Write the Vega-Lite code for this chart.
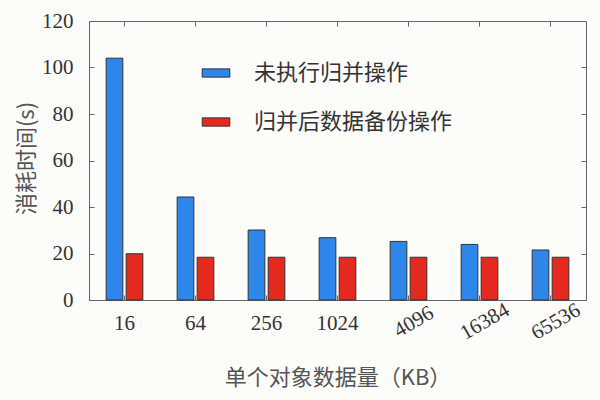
{
  "$schema": "https://vega.github.io/schema/vega-lite/v6.json",
  "width": 497,
  "height": 279,
  "autosize": {"type": "none"},
  "padding": {"left": 89, "top": 21, "right": 14, "bottom": 100},
  "background": "#fcfcfb",
  "config": {
    "view": {"stroke": "#666", "strokeWidth": 1},
    "axis": {"grid": false}
  },
  "data": {
    "values": [
      {"size": "16", "series": "未执行归并操作", "time": 104},
      {"size": "64", "series": "未执行归并操作", "time": 44.3},
      {"size": "256", "series": "未执行归并操作", "time": 30.1},
      {"size": "1024", "series": "未执行归并操作", "time": 26.8},
      {"size": "4096", "series": "未执行归并操作", "time": 25.2},
      {"size": "16384", "series": "未执行归并操作", "time": 23.9},
      {"size": "65536", "series": "未执行归并操作", "time": 21.5},
      {"size": "16", "series": "归并后数据备份操作", "time": 19.9},
      {"size": "64", "series": "归并后数据备份操作", "time": 18.4},
      {"size": "256", "series": "归并后数据备份操作", "time": 18.4},
      {"size": "1024", "series": "归并后数据备份操作", "time": 18.4},
      {"size": "4096", "series": "归并后数据备份操作", "time": 18.4},
      {"size": "16384", "series": "归并后数据备份操作", "time": 18.4},
      {"size": "65536", "series": "归并后数据备份操作", "time": 18.4}
    ]
  },
  "layer": [
    {
      "mark": {"type": "bar", "stroke": "#333", "strokeWidth": 1},
      "encoding": {
        "x": {
          "field": "size", "type": "nominal", "sort": null,
          "scale": {"paddingInner": 0.483, "paddingOuter": 0.2415},
          "axis": {
            "title": "单个对象数据量（KB）",
            "titleFont": "Noto Sans CJK SC", "titleFontSize": 22, "titleFontWeight": "normal",
            "titleColor": "#555", "titleY": 77, "titleBaseline": "middle",
            "labelFont": "Liberation Serif", "labelFontSize": 21, "labelColor": "#333",
            "labelAngle": {"expr": "indexof(['4096','16384','65536'], datum.value) >= 0 ? -30 : 0"},
            "labelAlign": "center", "labelBaseline": "top",
            "labelPadding": 17, "tickSize": -5, "tickColor": "#666",
            "domainColor": "#666",
            "encode": {
              "labels": {
                "update": {
                  "dy": {"signal": "indexof(['4096','16384','65536'], datum.value) >= 0 ? 8 : 0"}
                }
              }
            }
          }
        },
        "xOffset": {
          "field": "series", "type": "nominal",
          "sort": ["未执行归并操作", "归并后数据备份操作"],
          "scale": {"paddingInner": 0.165}
        },
        "y": {
          "field": "time", "type": "quantitative",
          "scale": {"domain": [0, 120]},
          "axis": {
            "title": "消耗时间(s)", "values": [0, 20, 40, 60, 80, 100, 120],
            "titleFont": "Noto Sans CJK SC", "titleFontSize": 22, "titleFontWeight": "normal",
            "titleColor": "#555", "titleX": -63, "titleY": 137, "titleBaseline": "middle", "titleAlign": "center", "titleAngle": -90,
            "labelFont": "Liberation Serif", "labelFontSize": 21, "labelColor": "#333",
            "labelPadding": 21, "tickSize": -5, "tickColor": "#666",
            "domainColor": "#666"
          }
        },
        "color": {
          "field": "series", "type": "nominal",
          "sort": ["未执行归并操作", "归并后数据备份操作"],
          "scale": {"domain": ["未执行归并操作", "归并后数据备份操作"], "range": ["#2f86ea", "#e5291e"]},
          "legend": {
            "title": null, "orient": "none", "legendX": 116, "legendY": 41,
            "symbolType": "M-2,-0.6H2V0.6H-2Z", "symbolSize": 190,
            "symbolStrokeColor": "#333", "symbolStrokeWidth": 1, "symbolOpacity": 1,
            "labelFont": "Noto Sans CJK SC", "labelFontSize": 22, "labelColor": "#333",
            "labelOffset": 27, "rowPadding": 27, "labelLimit": 400,
            "labelExpr": "datum.label == '归并后数据备份操作' ? '\u00a0\u00a0' + datum.label : datum.label"
          }
        }
      }
    },
    {
      "mark": {"type": "bar", "opacity": 0},
      "encoding": {
        "x": {
          "field": "size", "type": "nominal", "sort": null,
          "axis": {"orient": "top", "title": null, "labels": false, "domain": false, "tickSize": -5, "tickColor": "#666"}
        },
        "y": {
          "field": "time", "type": "quantitative",
          "axis": {"orient": "right", "title": null, "labels": false, "domain": false, "tickSize": -5, "tickColor": "#666", "values": [0, 20, 40, 60, 80, 100, 120]}
        }
      }
    }
  ],
  "resolve": {"axis": {"x": "independent", "y": "independent"}}
}
